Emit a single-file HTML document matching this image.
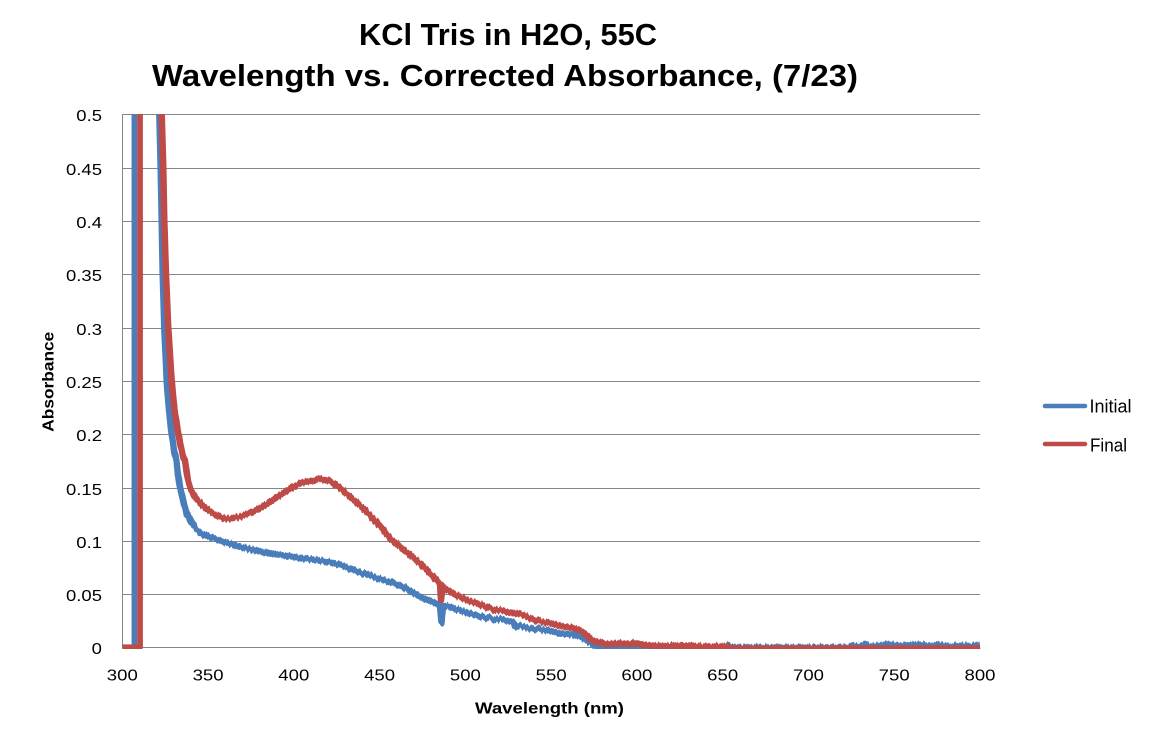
<!DOCTYPE html>
<html>
<head>
<meta charset="utf-8">
<style>
  html, body { margin: 0; padding: 0; background: #ffffff; }
  svg { display: block; }
  text { font-family: "Liberation Sans", "DejaVu Sans", sans-serif; fill: #000; }
</style>
</head>
<body>
<svg width="1158" height="741" viewBox="0 0 1158 741" xmlns="http://www.w3.org/2000/svg">
  <defs>
    <clipPath id="plotclip">
      <rect x="122" y="114" width="858.5" height="535"/>
    </clipPath>
    <filter id="jit" filterUnits="userSpaceOnUse" x="100" y="90" width="900" height="580" color-interpolation-filters="sRGB">
      <feTurbulence type="fractalNoise" baseFrequency="0.55 0.02" numOctaves="1" seed="7" result="n"/>
      <feColorMatrix in="n" type="matrix" values="0 0 0 0 0.5  0 1 0 0 0  0 0 0 0 0  0 0 0 0 1" result="m"/>
      <feDisplacementMap in="SourceGraphic" in2="m" scale="6" xChannelSelector="R" yChannelSelector="G"/>
    </filter>
  </defs>

  <!-- Title -->
  <text x="359" y="45" font-size="31" font-weight="bold" textLength="298" lengthAdjust="spacingAndGlyphs">KCl Tris in H2O, 55C</text>
  <text x="152" y="86" font-size="31" font-weight="bold" textLength="706" lengthAdjust="spacingAndGlyphs">Wavelength vs. Corrected Absorbance, (7/23)</text>

  <!-- Gridlines -->
  <g stroke="#868686" stroke-width="1" fill="none">
    <line x1="122" y1="114.5" x2="980" y2="114.5"/>
    <line x1="122" y1="168.5" x2="980" y2="168.5"/>
    <line x1="122" y1="221.5" x2="980" y2="221.5"/>
    <line x1="122" y1="274.5" x2="980" y2="274.5"/>
    <line x1="122" y1="328.5" x2="980" y2="328.5"/>
    <line x1="122" y1="381.5" x2="980" y2="381.5"/>
    <line x1="122" y1="434.5" x2="980" y2="434.5"/>
    <line x1="122" y1="488.5" x2="980" y2="488.5"/>
    <line x1="122" y1="541.5" x2="980" y2="541.5"/>
    <line x1="122" y1="594.5" x2="980" y2="594.5"/>
    <line x1="122" y1="647.5" x2="980" y2="647.5"/>
    <line x1="122.5" y1="114" x2="122.5" y2="648"/>
  </g>

  <!-- Series -->
  <g clip-path="url(#plotclip)" fill="none" stroke-linejoin="round">
    <!-- Initial (blue) -->
    <path d="M122.3,647.3 L134.3,647.3 L134.3,100" stroke="#4A7EBB" stroke-width="5.5"/>
    <g filter="url(#jit)">
      <path stroke="#4A7EBB" stroke-width="6.5" d="M159.3,100 L159.3,114.3 L160.7,168.3 L161.7,221.3 L162.7,274.3 L164.3,328.3 L166.7,381.7 L169,410 L171.7,434.3 L174,450 L176.7,462 L178,475 L180,486.7 L183,500 L186.7,513.3 L191,522 L196.7,530 L204,535 L213.3,538.3 L225,542 L236.7,546 L253,550 L270,553.3 L287,556 L303.3,558.3 L315,560 L326.7,561.7 L338,564.5 L350,568.3 L363,573 L376.7,578.3 L390,582 L403,587 L420,596.7 L440,605 L441.5,623 L443,606 L450,606.7 L462,611 L473.3,615 L493,618.5 L513.3,621.7 L515,626 L530,628 L543.3,630 L560,633 L575,635 L580,636.7 L587,640 L593.3,645 L600,647.3 L720,647.5 L728,645.5 L735,647.5 L850,647.5 L853,645.5 L858,647 L865,644.5 L870,646.5 L880,645.5 L890,644 L900,646 L910,645 L920,644.5 L930,646 L940,645 L950,646.5 L960,645.5 L970,646.5 L980,645"/>
    </g>
    <!-- Final (red) -->
    <path d="M122.3,647.3 L140,647.3 L140,100" stroke="#BE4B48" stroke-width="5.8"/>
    <g filter="url(#jit)">
      <path stroke="#BE4B48" stroke-width="6.5" d="M161.7,100 L161.7,114.3 L163.3,168.3 L164.3,221.3 L166,274.3 L168.3,328.3 L171.7,381.7 L174.5,410 L178.3,434.3 L181.5,450 L185,462 L188,480 L191,490 L195,497 L202,505 L210,511.7 L217,515.5 L225,518.3 L232,518 L240,516.7 L250,513 L260,508.3 L270,502 L280,495 L290,489 L300,483.3 L310,480.5 L320,479 L330,481.7 L340,488 L350,496.7 L360,505.5 L370,515 L380,526 L390,538.3 L400,546.7 L410,555 L420,563.3 L430,573 L440,583.3 L441,600 L442.5,586 L445,589.3 L455,594.5 L466.7,600 L480,604.5 L493.3,609.3 L505,611.5 L516.7,613.3 L528,617 L540,621.7 L553,624 L566.7,626.7 L575,628.5 L583.3,631.7 L588,636 L591.7,640 L598,642.5 L606.7,644 L620,643.5 L633.3,643.5 L646,645 L660,646 L680,645.5 L700,646.5 L715,646.5 L727,646.5 L733,648.5 L980,648.5"/>
    </g>
  </g>

  <!-- Y tick labels -->
  <g font-size="16" text-anchor="end">
    <text x="102" y="121" textLength="25.7" lengthAdjust="spacingAndGlyphs">0.5</text>
    <text x="102" y="175" textLength="36" lengthAdjust="spacingAndGlyphs">0.45</text>
    <text x="102" y="228" textLength="25.7" lengthAdjust="spacingAndGlyphs">0.4</text>
    <text x="102" y="281" textLength="36" lengthAdjust="spacingAndGlyphs">0.35</text>
    <text x="102" y="335" textLength="25.7" lengthAdjust="spacingAndGlyphs">0.3</text>
    <text x="102" y="388" textLength="36" lengthAdjust="spacingAndGlyphs">0.25</text>
    <text x="102" y="441" textLength="25.7" lengthAdjust="spacingAndGlyphs">0.2</text>
    <text x="102" y="495" textLength="36" lengthAdjust="spacingAndGlyphs">0.15</text>
    <text x="102" y="548" textLength="25.7" lengthAdjust="spacingAndGlyphs">0.1</text>
    <text x="102" y="601" textLength="36" lengthAdjust="spacingAndGlyphs">0.05</text>
    <text x="102" y="654" textLength="10.3" lengthAdjust="spacingAndGlyphs">0</text>
  </g>

  <!-- X tick labels -->
  <g font-size="16" text-anchor="middle">
    <text x="122.3" y="680.7" textLength="31" lengthAdjust="spacingAndGlyphs">300</text>
    <text x="208.1" y="680.7" textLength="31" lengthAdjust="spacingAndGlyphs">350</text>
    <text x="293.8" y="680.7" textLength="31" lengthAdjust="spacingAndGlyphs">400</text>
    <text x="379.6" y="680.7" textLength="31" lengthAdjust="spacingAndGlyphs">450</text>
    <text x="465.4" y="680.7" textLength="31" lengthAdjust="spacingAndGlyphs">500</text>
    <text x="551.2" y="680.7" textLength="31" lengthAdjust="spacingAndGlyphs">550</text>
    <text x="636.9" y="680.7" textLength="31" lengthAdjust="spacingAndGlyphs">600</text>
    <text x="722.7" y="680.7" textLength="31" lengthAdjust="spacingAndGlyphs">650</text>
    <text x="808.5" y="680.7" textLength="31" lengthAdjust="spacingAndGlyphs">700</text>
    <text x="894.2" y="680.7" textLength="31" lengthAdjust="spacingAndGlyphs">750</text>
    <text x="980" y="680.7" textLength="31" lengthAdjust="spacingAndGlyphs">800</text>
  </g>

  <!-- Axis titles -->
  <text x="549.5" y="713.5" font-size="16" font-weight="bold" text-anchor="middle" textLength="149" lengthAdjust="spacingAndGlyphs">Wavelength (nm)</text>
  <text transform="translate(53.3,381.7) rotate(-90)" x="0" y="0" font-size="15.5" font-weight="bold" text-anchor="middle" textLength="100" lengthAdjust="spacingAndGlyphs">Absorbance</text>

  <!-- Legend -->
  <line x1="1045" y1="406" x2="1085" y2="406" stroke="#4A7EBB" stroke-width="4.5" stroke-linecap="round"/>
  <text x="1089.5" y="412.7" font-size="18" textLength="42" lengthAdjust="spacingAndGlyphs">Initial</text>
  <line x1="1045" y1="444" x2="1085" y2="444" stroke="#BE4B48" stroke-width="4.5" stroke-linecap="round"/>
  <text x="1090" y="451.5" font-size="18" textLength="37" lengthAdjust="spacingAndGlyphs">Final</text>
</svg>
</body>
</html>
